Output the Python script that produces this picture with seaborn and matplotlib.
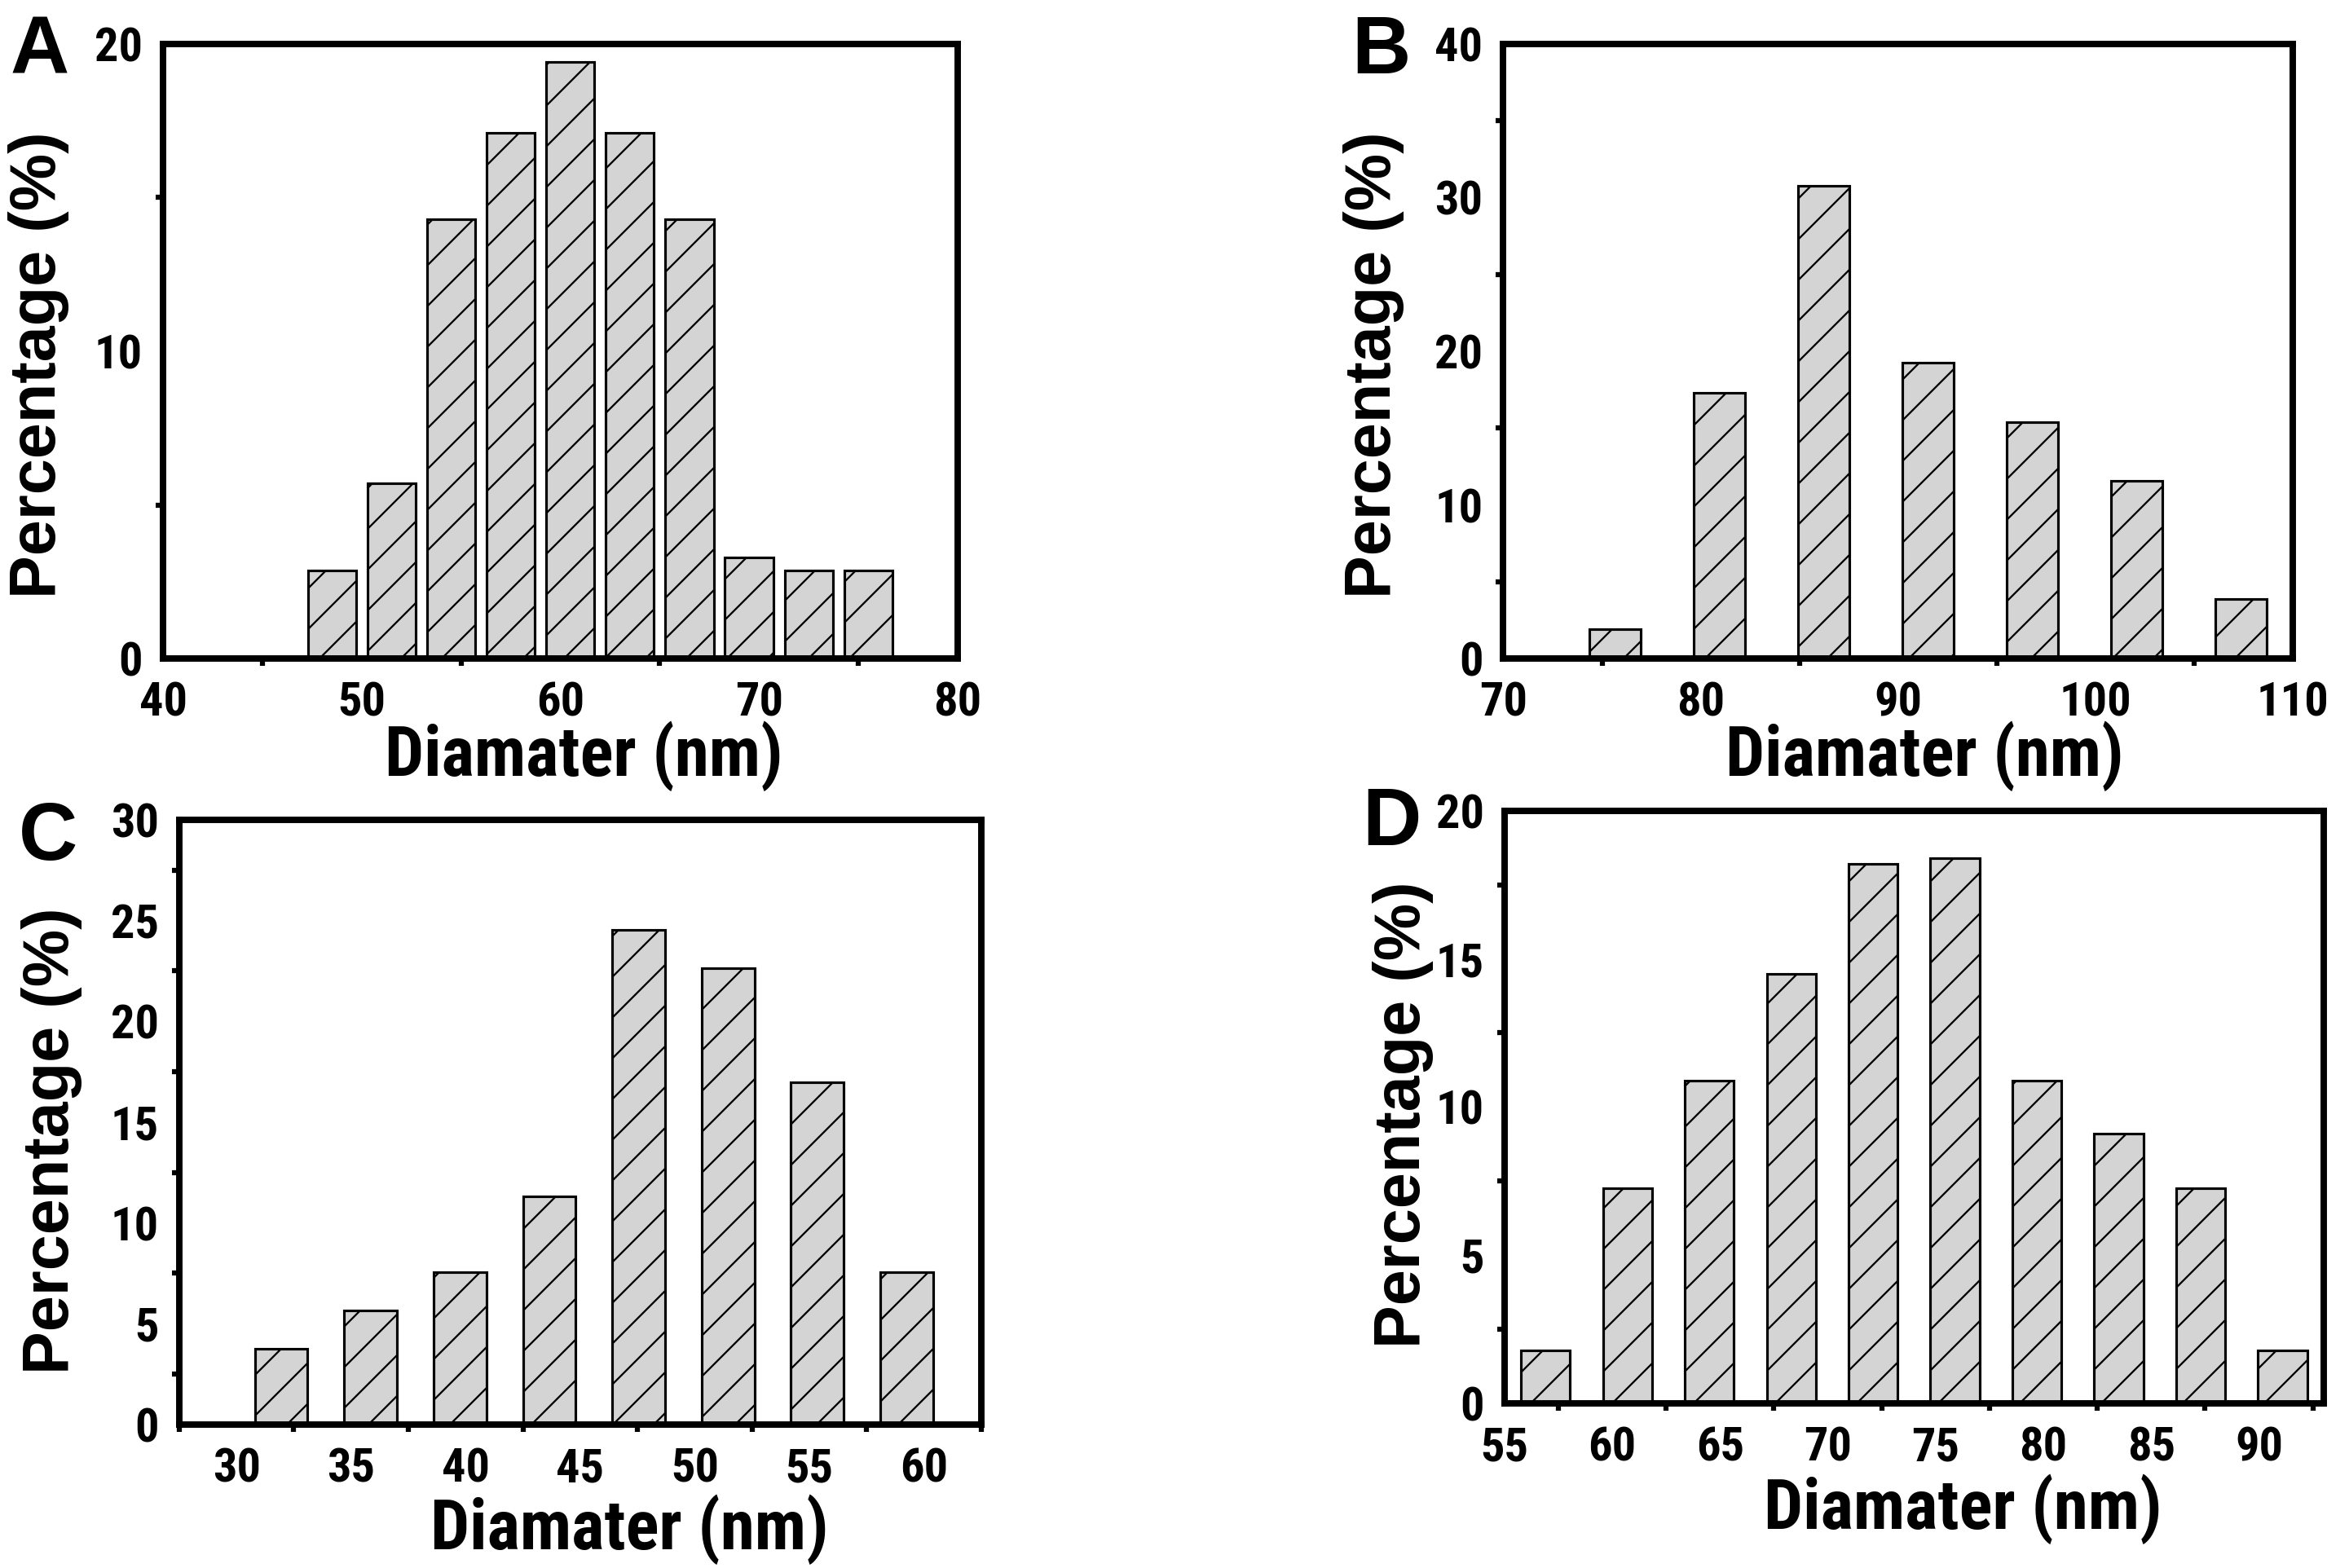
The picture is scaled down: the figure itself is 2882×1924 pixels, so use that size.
import matplotlib
matplotlib.use("Agg")
import matplotlib.pyplot as plt
from matplotlib.ticker import MultipleLocator
import seaborn as sns

sns.set_style("white")
plt.rcParams["font.family"] = ["Roboto Condensed", "DejaVu Sans"]
plt.rcParams["font.weight"] = "bold"
plt.rcParams["hatch.linewidth"] = 1.1
for key in ["text.color", "axes.labelcolor", "xtick.color", "ytick.color", "axes.edgecolor"]:
    plt.rcParams[key] = "black"

WIDE = ["Liberation Sans", "DejaVu Sans"]

# ---------------------------------------------------------------
# data
# ---------------------------------------------------------------
a_centers = [48.5, 51.5, 54.5, 57.5, 60.5, 63.5, 66.5, 69.5, 72.5, 75.5]
a_pct = [2.86, 5.71, 14.29, 17.1, 19.4, 17.1, 14.29, 3.3, 2.86, 2.86]

b_centers = [75.65, 80.94, 86.23, 91.52, 96.81, 102.1, 107.39]
b_pct = [1.92, 17.31, 30.77, 19.23, 15.38, 11.54, 3.85]

c_centers = [31.95, 35.85, 39.75, 43.65, 47.55, 51.45, 55.35, 59.25]
c_pct = [3.77, 5.66, 7.55, 11.32, 24.53, 22.64, 16.98, 7.55]

d_centers = [56.9, 60.7, 64.5, 68.3, 72.1, 75.9, 79.7, 83.5, 87.3, 91.1]
d_pct = [1.8, 7.27, 10.9, 14.5, 18.2, 18.4, 10.9, 9.1, 7.27, 1.8]

panels = [
    # letter, centers, values, bar width, xlim, xmajor, ylim, ymajor, axes rect, label spots
    ("A", a_centers, a_pct, 0.81, (40, 80), 10, (0, 20), 10,
     [0.0694, 0.580, 0.3383, 0.392], (-0.156, 0.478), (0.53, -0.159), (0.0168, 0.9532)),
    ("B", b_centers, b_pct, 0.49, (70, 110), 10, (0, 40), 10,
     [0.640, 0.580, 0.3360, 0.392], (-0.164, 0.478), (0.534, -0.159), (0.588, 0.9532)),
    ("C", c_centers, c_pct, 0.59, (27.5, 62.5), 5, (0, 30), 5,
     [0.0763, 0.0915, 0.3414, 0.3857], (-0.159, 0.469), (0.561, -0.173), (0.0205, 0.4517)),
    ("D", d_centers, d_pct, 0.60, (55, 93), 5, (0, 20), 5,
     [0.6405, 0.105, 0.3487, 0.378], (-0.124, 0.4875), (0.56, -0.179), (0.5923, 0.461)),
]

fig = plt.figure(figsize=(2882 / 150, 1924 / 150), dpi=150)

for (letter, centers, pct, width, xlim, xmaj, ylim, ymaj,
     rect, ylab_xy, xlab_xy, letter_xy) in panels:
    ax = fig.add_axes(rect)
    sns.barplot(x=centers, y=pct, native_scale=True, width=width,
                color="#d4d4d4", saturation=1, edgecolor="black",
                linewidth=1.5, hatch="/", ax=ax)

    ax.set_xlim(*xlim)
    ax.set_ylim(*ylim)
    ax.xaxis.set_major_locator(MultipleLocator(xmaj))
    ax.xaxis.set_minor_locator(MultipleLocator(xmaj / 2))
    ax.yaxis.set_major_locator(MultipleLocator(ymaj))
    ax.yaxis.set_minor_locator(MultipleLocator(ymaj / 2))
    ax.tick_params(which="major", direction="out", length=8, width=3.2,
                   labelsize=28, pad=4, top=False, right=False)
    ax.tick_params(which="minor", direction="out", length=4.5, width=3,
                   top=False, right=False, bottom=True, left=True)
    ax.tick_params(axis="x", which="major", pad=5)
    for t in ax.get_xticklabels() + ax.get_yticklabels():
        t.set_fontweight("bold")
    for sp in ax.spines.values():
        sp.set_visible(True)
        sp.set_linewidth(3.8)

    ax.set_ylabel("Percentage (%)", family=WIDE, fontsize=38,
                  fontweight="bold", va="center")
    ax.yaxis.set_label_coords(*ylab_xy)
    ax.set_xlabel("Diamater (nm)", fontsize=41, fontweight="bold", va="center")
    ax.xaxis.set_label_coords(*xlab_xy)

    fig.text(letter_xy[0], letter_xy[1], letter, family=WIDE,
             fontsize=48, fontweight="bold", ha="center", va="baseline")

fig.savefig("out.png", dpi=150, facecolor="white")
